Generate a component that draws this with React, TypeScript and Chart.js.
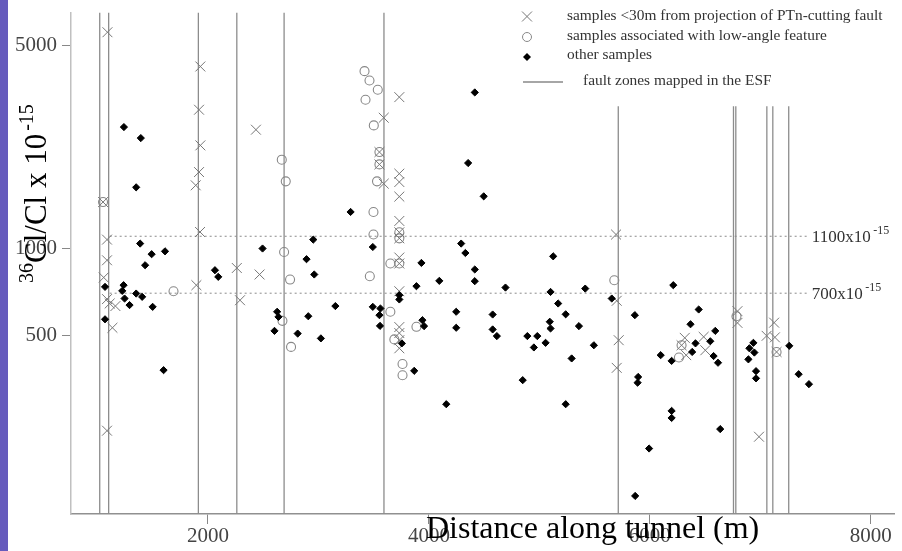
import React, { useEffect, useRef } from 'react';
import { Chart, registerables } from 'chart.js';

Chart.register(...registerables);

const FONT = '"Liberation Serif", "Times New Roman", Times, serif';

// axis ranges and ticks
const X_MIN = 760;
const X_MAX = 8210;
const Y_MIN = 121.3;
const Y_MAX = 6498;
const X_TICKS = [2000, 4000, 6000, 8000];
const Y_TICKS = [500, 1000, 5000];

// fault zones mapped in the ESF (distance along tunnel, m) and the top value each line reaches
const FAULT_ZONES = [1020, 1101, 1913, 2261, 2689, 3593, 5714, 6757, 6778, 7059, 7113, 7257];
const FAULT_TOPS = [6498, 6498, 6498, 6498, 6498, 6498, 3085, 3085, 3085, 3085, 3085, 3085];

// reference levels (x10^-15)
const REF_LEVELS = [1100, 700];
const REF_LABELS = ['1100x10', '700x10'];
const REF_FROM = 1110;
const REF_TO = 7430;

// samples <30m from projection of PTn-cutting fault
const NEAR_FAULT: [number, number][] = [
  [1090, 5556], [1931, 4233], [1919, 3003], [1931, 2263], [1919, 1831], [1889, 1648],
  [2434, 2563], [1050, 1443], [1086, 1071], [1928, 1138], [1086, 909], [1056, 793],
  [1086, 668], [1110, 645], [1162, 632], [1135, 532], [1895, 746], [2261, 855],
  [2290, 662], [2467, 812], [1086, 235],
  [3732, 3319], [3591, 2818], [3552, 2146], [3552, 1946], [3591, 1670], [3732, 1808],
  [3732, 1692], [3732, 1507], [3732, 1242], [3732, 1135], [3732, 1082], [3732, 929],
  [3732, 886], [3732, 711], [3732, 535], [3732, 510], [3732, 482], [3732, 452],
  [5694, 1115], [5700, 659], [5718, 482], [5700, 387], [6287, 463], [6316, 491],
  [6329, 428], [6487, 495], [6502, 445], [6793, 607], [6793, 553], [7125, 554],
  [7057, 499], [7132, 493], [7147, 439], [6988, 224],
];

// samples associated with low-angle feature
const LOW_ANGLE: [number, number][] = [
  [1050, 1443], [2668, 2020], [2704, 1701], [1688, 711], [2689, 971], [2743, 780],
  [2674, 562], [2752, 457],
  [3417, 4079], [3462, 3789], [3537, 3520], [3426, 3251], [3501, 2652], [3552, 2146],
  [3552, 1946], [3530, 1701], [3498, 1334], [3498, 1115], [3732, 1135], [3732, 1082],
  [3651, 886], [3732, 886], [3465, 801], [3651, 604], [3887, 536], [3687, 485],
  [3761, 399], [3761, 365],
  [5678, 776], [6287, 463], [6263, 420], [6784, 583], [7147, 439],
];

// other samples
const OTHER: [number, number][] = [
  [1239, 2617], [1392, 2398], [1350, 1622], [1068, 736], [1068, 569], [1386, 1038],
  [1490, 954], [1611, 976], [1431, 874], [1236, 746], [1224, 713], [1245, 671],
  [1290, 637], [1350, 698], [1404, 680], [1499, 628], [1598, 380], [2063, 840],
  [2093, 797], [2494, 998], [2626, 604], [2638, 580], [2602, 519], [2812, 508],
  [4415, 3445], [4355, 1967], [4496, 1510], [3291, 1334], [2953, 1071], [3492, 1010],
  [2892, 917], [2962, 812], [3932, 890], [4292, 1038], [4330, 963], [4415, 845],
  [4415, 770], [4094, 772], [3887, 740], [4693, 732], [5125, 938], [5101, 707],
  [5415, 726], [5170, 645], [5238, 592], [5358, 539], [5094, 558], [5101, 529],
  [3732, 689], [3732, 666], [3153, 632], [2908, 583], [3492, 628], [3561, 620],
  [3552, 588], [3557, 540], [3022, 489], [3941, 565], [3956, 539], [4247, 604],
  [4247, 532], [4577, 591], [4577, 525], [4615, 498], [3755, 470], [4891, 498],
  [4981, 498], [4950, 455], [5056, 472], [5292, 417], [5493, 463], [3867, 378],
  [4849, 351], [4157, 290], [5238, 290],
  [5655, 671], [6212, 746], [5864, 588], [6442, 615], [6368, 547], [6592, 519],
  [6547, 478], [6098, 428], [6197, 409], [6413, 470], [6383, 439], [6577, 425],
  [6617, 403], [5894, 360], [5889, 344], [6197, 275], [6197, 260], [6637, 238],
  [5993, 204], [5867, 140], [6937, 472], [6901, 452], [6946, 437], [6892, 414],
  [6961, 377], [6961, 356], [7262, 461], [7347, 368], [7440, 340],
];

const LEGEND_TEXT = [
  'samples <30m from projection of PTn-cutting fault',
  'samples associated with low-angle feature',
  'other samples',
  'fault zones mapped in the ESF',
];

const toPts = (arr: [number, number][]) => arr.map(([x, y]) => ({ x, y }));

const annotations = {
  id: 'annotations',
  afterDraw(chart: any) {
    const { ctx } = chart;
    const xs = chart.scales.x;
    const ys = chart.scales.y;
    ctx.save();

    // reference level labels
    ctx.fillStyle = '#333';
    ctx.textAlign = 'left';
    ctx.textBaseline = 'alphabetic';
    REF_LEVELS.forEach((lvl, i) => {
      const px = xs.getPixelForValue(REF_TO) + 4;
      const py = ys.getPixelForValue(lvl);
      ctx.font = `17px ${FONT}`;
      ctx.fillText(REF_LABELS[i], px, py + 5.5);
      const w = ctx.measureText(REF_LABELS[i]).width;
      ctx.font = `12px ${FONT}`;
      ctx.fillText('-15', px + w + 2.5, py - 2.5);
    });

    // legend
    const mx = 527;
    ctx.strokeStyle = '#777';
    ctx.lineWidth = 1;
    ctx.beginPath();
    ctx.moveTo(mx - 5, 16.5 - 5);
    ctx.lineTo(mx + 5, 16.5 + 5);
    ctx.moveTo(mx + 5, 16.5 - 5);
    ctx.lineTo(mx - 5, 16.5 + 5);
    ctx.stroke();
    ctx.strokeStyle = '#888';
    ctx.beginPath();
    ctx.arc(mx, 37, 4.5, 0, Math.PI * 2);
    ctx.stroke();
    ctx.fillStyle = '#000';
    ctx.beginPath();
    ctx.moveTo(mx - 4, 57);
    ctx.lineTo(mx, 53);
    ctx.lineTo(mx + 4, 57);
    ctx.lineTo(mx, 61);
    ctx.closePath();
    ctx.fill();
    ctx.strokeStyle = '#888';
    ctx.lineWidth = 1.3;
    ctx.beginPath();
    ctx.moveTo(523, 82);
    ctx.lineTo(563, 82);
    ctx.stroke();

    ctx.fillStyle = '#333';
    ctx.font = `15.4px ${FONT}`;
    ctx.fillText(LEGEND_TEXT[0], 567, 19.5);
    ctx.fillText(LEGEND_TEXT[1], 567, 40);
    ctx.fillText(LEGEND_TEXT[2], 567, 58.5);
    ctx.fillText(LEGEND_TEXT[3], 583, 85);

    // y axis title
    ctx.save();
    ctx.translate(45.5, 283);
    ctx.rotate(-Math.PI / 2);
    ctx.fillStyle = '#000';
    ctx.font = `20px ${FONT}`;
    ctx.fillText('36', 0, -12.5);
    let w = ctx.measureText('36').width;
    ctx.font = `31px ${FONT}`;
    ctx.fillText('Cl/Cl x 10', w, 0);
    w += ctx.measureText('Cl/Cl x 10').width;
    ctx.font = `20px ${FONT}`;
    ctx.fillText('-15', w + 3, -12.5);
    ctx.restore();

    // x axis title
    ctx.fillStyle = '#000';
    ctx.font = `32px ${FONT}`;
    ctx.fillText('Distance along tunnel (m)', 426, 538);

    ctx.restore();
  },
};

export default function App() {
  const canvasRef = useRef<HTMLCanvasElement | null>(null);

  useEffect(() => {
    if (!canvasRef.current) return;

    const faultSets = FAULT_ZONES.map((fx, i) => ({
      type: 'scatter' as const,
      data: [
        { x: fx, y: FAULT_TOPS[i] },
        { x: fx, y: Y_MIN },
      ],
      showLine: true,
      borderColor: '#8c8c8c',
      borderWidth: 1.3,
      pointRadius: 0,
      order: 10,
    }));

    const refSets = REF_LEVELS.map((lvl) => ({
      type: 'scatter' as const,
      data: [
        { x: REF_FROM, y: lvl },
        { x: REF_TO, y: lvl },
      ],
      showLine: true,
      borderColor: '#8a8a8a',
      borderWidth: 1,
      borderDash: [2, 3],
      pointRadius: 0,
      order: 9,
    }));

    const chart = new Chart(canvasRef.current, {
      type: 'scatter',
      data: {
        datasets: [
          {
            label: 'other samples',
            data: toPts(OTHER),
            pointStyle: 'rectRot',
            pointRadius: 3.6,
            backgroundColor: '#000',
            borderColor: '#000',
            borderWidth: 1,
            order: 0,
          },
          {
            label: 'samples <30m from projection of PTn-cutting fault',
            data: toPts(NEAR_FAULT),
            pointStyle: 'crossRot',
            pointRadius: 7,
            borderColor: '#777',
            borderWidth: 1,
            order: 1,
          },
          {
            label: 'samples associated with low-angle feature',
            data: toPts(LOW_ANGLE),
            pointStyle: 'circle',
            pointRadius: 4.5,
            backgroundColor: 'rgba(0,0,0,0)',
            borderColor: '#888',
            borderWidth: 1.1,
            order: 2,
          },
          ...refSets,
          ...faultSets,
        ] as any,
      },
      options: {
        animation: false,
        responsive: false,
        events: [],
        layout: { padding: { top: 12.5, right: 2, left: 0, bottom: 0 } },
        plugins: { legend: { display: false }, tooltip: { enabled: false } },
        scales: {
          x: {
            type: 'linear',
            min: X_MIN,
            max: X_MAX,
            afterBuildTicks: (s: any) => {
              s.ticks = X_TICKS.map((v) => ({ value: v }));
            },
            afterFit: (s: any) => {
              s.height = 37;
              s.paddingLeft = 0;
              s.paddingRight = 0;
            },
            ticks: {
              callback: (v: any) => String(v),
              font: { family: FONT, size: 21 },
              color: '#444',
              padding: 0,
              maxRotation: 0,
              autoSkip: false,
            },
            grid: { drawOnChartArea: false, drawTicks: true, tickLength: 10, color: '#888', lineWidth: 1 },
            border: { display: true, color: '#909090', width: 1.5 },
          },
          y: {
            type: 'logarithmic',
            min: Y_MIN,
            max: Y_MAX,
            afterBuildTicks: (s: any) => {
              s.ticks = Y_TICKS.map((v) => ({ value: v }));
            },
            afterFit: (s: any) => {
              s.width = 71;
              s.paddingTop = 0;
              s.paddingBottom = 0;
            },
            ticks: {
              callback: (v: any) => String(v),
              font: { family: FONT, size: 21 },
              color: '#444',
              padding: 5,
              autoSkip: false,
            },
            grid: { drawOnChartArea: false, drawTicks: true, tickLength: 9, color: '#888', lineWidth: 1 },
            border: { display: true, color: '#c0c0c0', width: 1.5 },
          },
        },
      } as any,
      plugins: [annotations],
    });

    return () => chart.destroy();
  }, []);

  return (
    <div style={{ position: 'fixed', left: 0, top: 0, width: 902, height: 551, background: '#fff' }}>
      <canvas
        ref={canvasRef}
        width={902}
        height={551}
        style={{ position: 'absolute', left: 0, top: 0, width: 902, height: 551 }}
      />
      <div style={{ position: 'absolute', left: 0, top: 0, width: 8, height: 551, background: '#665bbd' }} />
    </div>
  );
}
